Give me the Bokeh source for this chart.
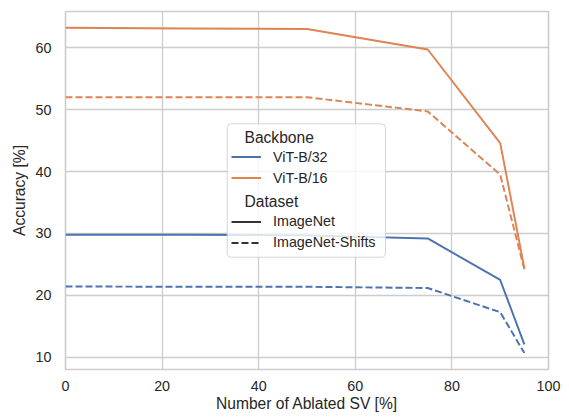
from bokeh.plotting import figure
from bokeh.models import Legend, LegendItem, BoxAnnotation, Label, Range1d, FixedTicker
from bokeh.embed import file_html
from bokeh.resources import INLINE

# ---- data ----
ablated_sv = [0, 25, 50, 75, 90, 95]
b32_imagenet = [29.8, 29.8, 29.7, 29.2, 22.5, 12.1]
b32_shifts = [21.45, 21.4, 21.4, 21.2, 17.3, 10.7]
b16_imagenet = [63.2, 63.1, 63.0, 59.7, 44.6, 24.4]
b16_shifts = [52.0, 52.0, 52.0, 49.7, 39.5, 24.2]
x_ticks = [0, 20, 40, 60, 80, 100]
y_ticks = [10, 20, 30, 40, 50, 60]
backbones = ["ViT-B/32", "ViT-B/16"]
datasets = ["ImageNet", "ImageNet-Shifts"]

BLUE = "#4c72b0"
ORANGE = "#dd8452"
DARK = "#333333"
TXT = "#262626"
GRID = "#cccccc"
FONT = "Liberation Sans"
LW = 1.95
DASH = "7 3"

p = figure(width=569, height=417, output_backend="svg", toolbar_location=None,
           x_range=Range1d(0, 100), y_range=Range1d(8.05, 65.83),
           min_border_left=65, min_border_right=21, min_border_top=11, min_border_bottom=48,
           background_fill_color="white", border_fill_color="white")

r32 = p.line(ablated_sv, b32_imagenet, line_color=BLUE, line_width=LW)
p.line(ablated_sv, b32_shifts, line_color=BLUE, line_width=LW, line_dash=DASH)
r16 = p.line(ablated_sv, b16_imagenet, line_color=ORANGE, line_width=LW)
p.line(ablated_sv, b16_shifts, line_color=ORANGE, line_width=LW, line_dash=DASH)

# legend handles for the dataset style (not drawn in the plot itself)
h_solid = p.line(ablated_sv, b16_imagenet, line_color=DARK, line_width=LW, visible=False)
h_dash = p.line(ablated_sv, b16_shifts, line_color=DARK, line_width=LW, line_dash=DASH,
                visible=False)

# axes
p.xaxis.ticker = FixedTicker(ticks=x_ticks)
p.yaxis.ticker = FixedTicker(ticks=y_ticks)
p.xaxis.axis_label = "Number of Ablated SV [%]"
p.yaxis.axis_label = "Accuracy [%]"
for ax in (p.xaxis, p.yaxis):
    ax.axis_line_color = None
    ax.major_tick_line_color = None
    ax.minor_tick_line_color = None
    ax.major_tick_out = 0
    ax.major_tick_in = 0
    ax.minor_tick_out = 0
    ax.minor_tick_in = 0
    ax.major_label_text_font = FONT
    ax.major_label_text_font_size = "14.3px"
    ax.major_label_text_color = TXT
    ax.axis_label_text_font = FONT
    ax.axis_label_text_font_size = "15.6px"
    ax.axis_label_text_font_style = "normal"
    ax.axis_label_text_color = TXT
p.xaxis.major_label_standoff = 11
p.xaxis.axis_label_standoff = 1
p.yaxis.major_label_standoff = 14
p.yaxis.axis_label_standoff = 5

p.grid.grid_line_color = GRID
p.grid.grid_line_width = 1.3
p.outline_line_color = GRID
p.outline_line_width = 1.6

# legend frame
box = BoxAnnotation(left=161.7, right=320, top=245.7, bottom=112.3,
                    left_units="screen", right_units="screen",
                    top_units="screen", bottom_units="screen",
                    fill_color="white", fill_alpha=0.8,
                    line_color=GRID, line_alpha=0.8, line_width=1,
                    border_radius=4)
p.add_layout(box)


def make_legend(items, loc):
    lg = Legend(items=items, location=loc, glyph_width=30, glyph_height=17,
                label_height=17, label_standoff=12, spacing=4, padding=0, margin=0,
                border_line_alpha=0, background_fill_alpha=0,
                label_text_font=FONT, label_text_font_size="14.3px",
                label_text_color=TXT)
    return lg


leg_a = make_legend([LegendItem(label=backbones[0], renderers=[r32]),
                     LegendItem(label=backbones[1], renderers=[r16])], (166, 182.8))
leg_b = make_legend([LegendItem(label=datasets[0], renderers=[h_solid]),
                     LegendItem(label=datasets[1], renderers=[h_dash])], (166, 118.5))
p.add_layout(leg_a)
p.add_layout(leg_b)

for txt, yy in (("Backbone", 232.3), ("Dataset", 168.3)):
    p.add_layout(Label(x=179, y=yy, x_units="screen", y_units="screen", text=txt,
                       text_baseline="middle", text_font=FONT, text_font_size="15.6px",
                       text_color=TXT))

open("out.html", "w").write(file_html(p, INLINE))
